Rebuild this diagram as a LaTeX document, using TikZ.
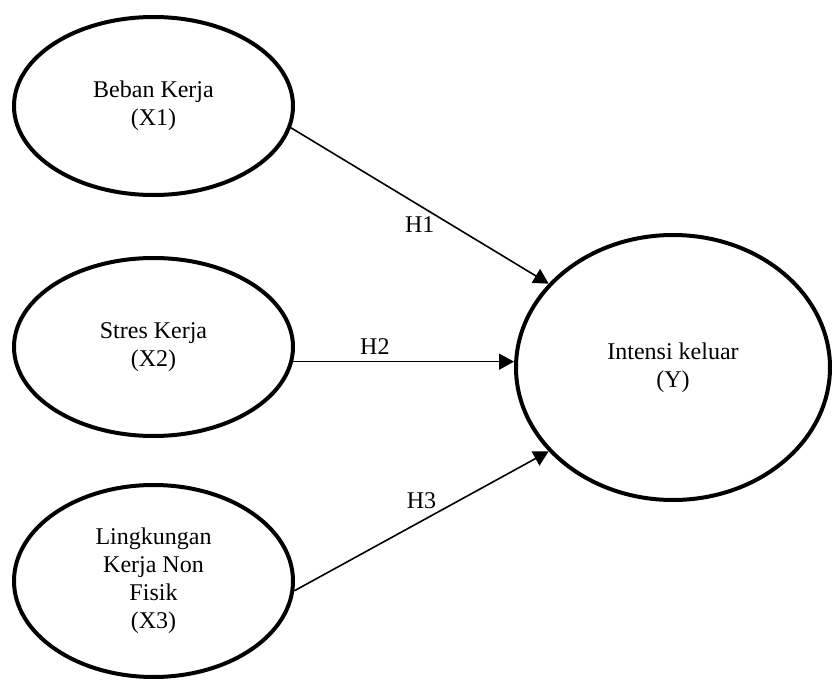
\documentclass[tikz,border=0pt]{standalone}
\usepackage{fontspec}
\setmainfont{Liberation Serif}
\usetikzlibrary{arrows.meta, shapes.geometric}

\begin{document}
\begin{tikzpicture}[x=0.5pt, y=-0.5pt, font=\fontsize{12}{14}\selectfont,
  var/.style={draw, ellipse, line width=2pt, align=center, inner sep=0pt,
              minimum width=139.5pt, minimum height=89pt},
  hyp/.style={inner sep=2pt},
  arr/.style={-{Triangle[length=7.5pt, width=8pt]}, line width=0.8pt}]

\useasboundingbox (0,0) rectangle (832,680);

% --- independent variables
\node[var] (x1) at (153.5,106) {Beban Kerja\\(X1)};
\node[var] (x2) at (153.5,347) {Stres Kerja\\(X2)};
\node[var, minimum height=96pt] (x3) at (153.5,581) {Lingkungan\\Kerja Non\\Fisik\\(X3)};

% --- dependent variable
\node[var, minimum width=157pt, minimum height=132.5pt] (y) at (673,367.5) {Intensi keluar\\(Y)};

% --- hypotheses
\draw[arr] (x1.-9) -- (y.146) node[hyp, midway, below=3pt] {H1};
\draw[arr] (x2.-6) -- (x2.-6 -| y.west) node[hyp, pos=0.37, above=1pt] {H2};
\draw[arr] (x3.-4) -- (y.214) node[hyp, midway, above=4pt] {H3};
\end{tikzpicture}
\end{document}
